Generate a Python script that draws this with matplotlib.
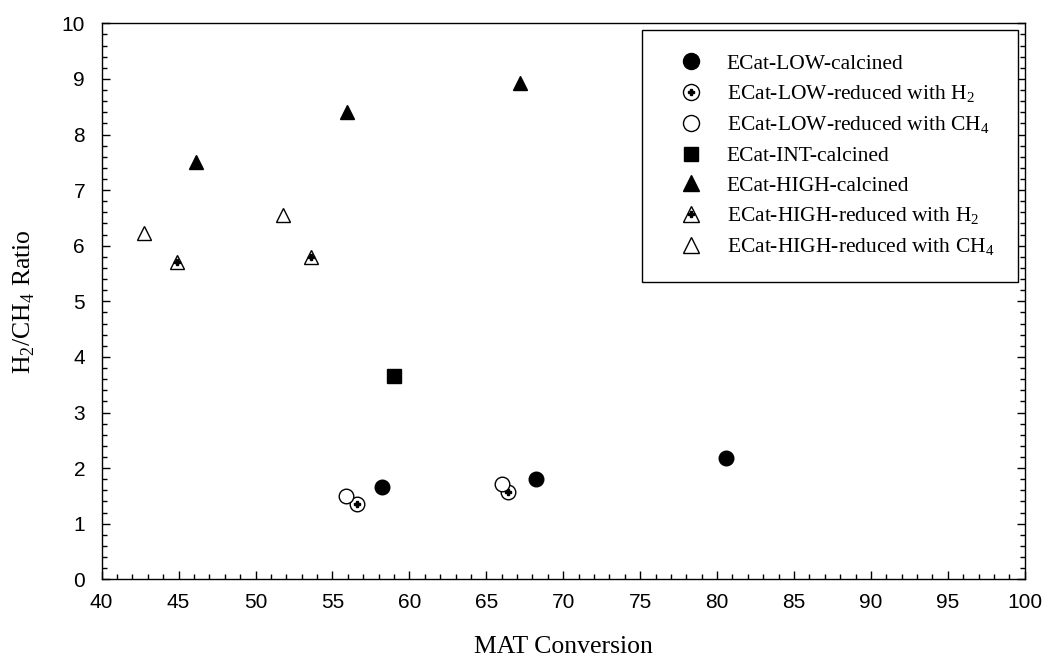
import matplotlib
matplotlib.use("Agg")
import matplotlib.pyplot as plt
from matplotlib.ticker import MultipleLocator

# H2/CH4 ratio vs MAT conversion for the different catalyst treatments
plt.rcParams['mathtext.fontset'] = 'custom'
plt.rcParams['mathtext.rm'] = 'Liberation Serif'

low_calc_x = [58.2, 68.2, 80.6]
low_calc_y = [1.66, 1.81, 2.19]
low_h2_x = [56.6, 66.4]
low_h2_y = [1.35, 1.57]
low_ch4_x = [55.9, 66.05]
low_ch4_y = [1.50, 1.71]
int_calc_x = [59.0]
int_calc_y = [3.65]
high_calc_x = [46.1, 55.95, 67.2]
high_calc_y = [7.5, 8.4, 8.92]
high_h2_x = [44.9, 53.6]
high_h2_y = [5.7, 5.8]
high_ch4_x = [42.75, 51.8]
high_ch4_y = [6.23, 6.56]

labels = ["ECat-LOW-calcined",
          r"ECat-LOW-reduced with H$_{\mathregular{2}}$",
          r"ECat-LOW-reduced with CH$_{\mathregular{4}}$",
          "ECat-INT-calcined",
          "ECat-HIGH-calcined",
          r"ECat-HIGH-reduced with H$_{\mathregular{2}}$",
          r"ECat-HIGH-reduced with CH$_{\mathregular{4}}$"]

fig = plt.figure(figsize=(10.45, 6.59), dpi=100)
ax = fig.add_axes([0.0973, 0.1209, 0.8833, 0.8437])

ms = 10.5
h1, = ax.plot(low_calc_x, low_calc_y, 'o', ms=ms, color='black', ls='none')
h2a, = ax.plot(low_h2_x, low_h2_y, 'o', ms=ms, mfc='white', mec='black', mew=1.0, ls='none')
h2b, = ax.plot(low_h2_x, low_h2_y, 'P', ms=4.5, color='black', ls='none')
h3, = ax.plot(low_ch4_x, low_ch4_y, 'o', ms=ms, mfc='white', mec='black', mew=1.0, ls='none')
h4, = ax.plot(int_calc_x, int_calc_y, 's', ms=9.5, color='black', ls='none')
h5, = ax.plot(high_calc_x, high_calc_y, '^', ms=ms, color='black', ls='none')
h6a, = ax.plot(high_h2_x, high_h2_y, '^', ms=ms, mfc='white', mec='black', mew=1.0, ls='none')
h6b, = ax.plot(high_h2_x, high_h2_y, 'P', ms=4.5, color='black', ls='none')
h7, = ax.plot(high_ch4_x, high_ch4_y, '^', ms=ms, mfc='white', mec='black', mew=1.0, ls='none')

ax.set_xlim(40, 100)
ax.set_ylim(0, 10)
ax.xaxis.set_major_locator(MultipleLocator(5))
ax.xaxis.set_minor_locator(MultipleLocator(1))
ax.yaxis.set_major_locator(MultipleLocator(1))
ax.yaxis.set_minor_locator(MultipleLocator(0.2))
ax.tick_params(which='both', direction='in', top=False, right=True, width=1.0)
ax.tick_params(which='major', length=6)
ax.tick_params(which='minor', length=3.5)
ax.tick_params(axis='x', which='major', pad=10)
ax.tick_params(axis='y', which='major', pad=12)
for lab in ax.get_xticklabels() + ax.get_yticklabels():
    lab.set_fontfamily('Liberation Sans')
    lab.set_fontsize(15)
for sp in ax.spines.values():
    sp.set_linewidth(1.0)

ax.set_xlabel("MAT Conversion", fontsize=18.5, family='Liberation Serif', labelpad=17)
ax.set_ylabel(r"H$_{\mathregular{2}}$/CH$_{\mathregular{4}}$ Ratio", fontsize=18.5,
              family='Liberation Serif', labelpad=18)

leg = ax.legend([h1, (h2a, h2b), h3, h4, h5, (h6a, h6b), h7], labels,
                loc='upper right', bbox_to_anchor=(0.9927, 0.988), borderaxespad=0,
                prop={'family': 'Liberation Serif', 'size': 15.5},
                frameon=True, fancybox=False, edgecolor='black', framealpha=1,
                borderpad=1.1, labelspacing=0.45, handlelength=2.4, handletextpad=0.45,
                markerscale=1.1)
leg.get_frame().set_linewidth(1.0)

fig.savefig("out.png", dpi=100)
